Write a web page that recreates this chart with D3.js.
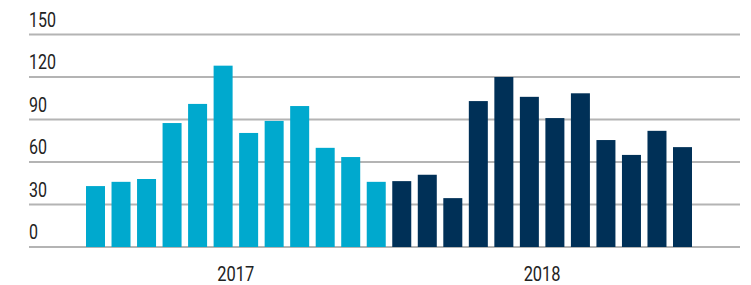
<!DOCTYPE html>
<html>
<head>
<meta charset="utf-8">
<script src="https://cdn.jsdelivr.net/npm/d3@7"></script>
<style>
  body { margin: 0; background: #fff; }
  text { font-family: Roboto, "DejaVu Sans", sans-serif; font-weight: 400; fill: #222; }
</style>
</head>
<body>
<div id="chart"></div>
<script>
// data
var years = ["2017", "2018"];
var values2017 = [43, 46, 48, 87.5, 101, 128, 80.5, 89, 99.5, 70, 63.5, 46];
var values2018 = [46.5, 51, 34.5, 103, 120, 106, 91, 108.5, 75.5, 65, 82, 70.5];
var yTicks = [0, 30, 60, 90, 120, 150];
var colors = ["#00a9ce", "#003057"];

var width = 751, height = 285;

var bars = [];
values2017.forEach(function(v, i) { bars.push({year: 0, i: bars.length, value: v}); });
values2018.forEach(function(v, i) { bars.push({year: 1, i: bars.length, value: v}); });

var svg = d3.select("#chart").append("svg")
    .attr("width", width)
    .attr("height", height);

// scales
var x = d3.scaleBand()
    .domain(d3.range(bars.length))
    .range([86, 692])
    .paddingInner(0.2555)
    .paddingOuter(0);

var y = d3.scaleLinear()
    .domain([0, 150])
    .range([247, 34.5]);

var gridLeft = 29, gridRight = 740;

// gridlines
svg.append("g").selectAll("line")
    .data(yTicks)
    .enter().append("line")
    .attr("x1", gridLeft)
    .attr("x2", gridRight)
    .attr("y1", function(d) { return y(d); })
    .attr("y2", function(d) { return y(d); })
    .attr("stroke", "#b4b4b4")
    .attr("stroke-width", 2);

// tick labels sit above the lines
svg.append("g").selectAll("text")
    .data(yTicks)
    .enter().append("text")
    .attr("x", gridLeft)
    .attr("y", function(d) { return y(d) - 8; })
    .attr("textLength", function(d) { return String(d).length * 9; })
    .attr("lengthAdjust", "spacingAndGlyphs")
    .style("font-size", "19.5px")
    .text(function(d) { return d; });

// bars
svg.append("g").selectAll("rect")
    .data(bars)
    .enter().append("rect")
    .attr("x", function(d) { return x(d.i); })
    .attr("width", x.bandwidth())
    .attr("y", function(d) { return y(d.value); })
    .attr("height", function(d) { return y(0) - y(d.value); })
    .attr("fill", function(d) { return colors[d.year]; });

// year labels under each group
svg.append("g").selectAll("text")
    .data(years)
    .enter().append("text")
    .attr("x", function(d, k) {
        var first = k * 12, last = k * 12 + 11;
        return (x(first) + x(last) + x.bandwidth()) / 2;
    })
    .attr("y", 281)
    .attr("text-anchor", "middle")
    .attr("textLength", 37)
    .attr("lengthAdjust", "spacingAndGlyphs")
    .style("font-size", "19.5px")
    .text(function(d) { return d; });
</script>
</body>
</html>
